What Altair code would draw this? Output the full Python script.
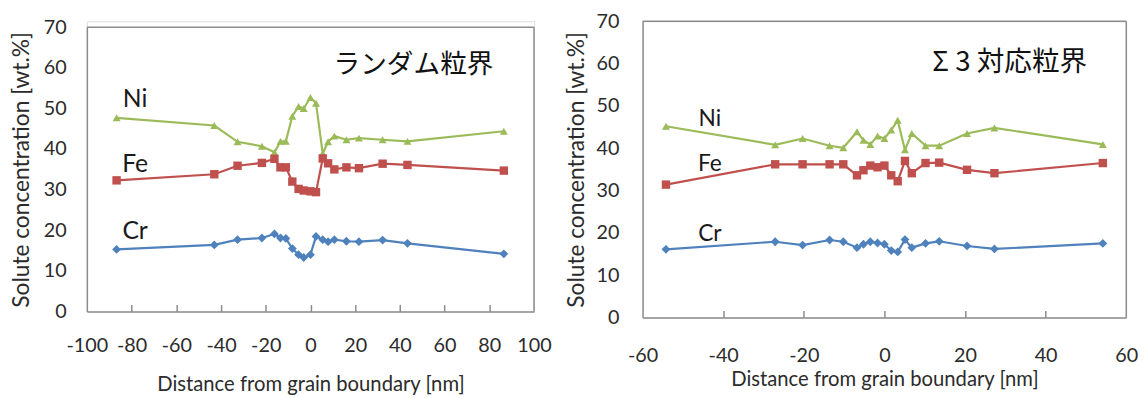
import altair as alt
import pandas as pd

# ---- data ----
elements = ["Ni", "Fe", "Cr"]

random_x = [-86.7, -43.0, -32.6, -21.7, -16.1, -13.4, -11.0, -8.1, -5.3, -3.0,
            0.0, 2.5, 5.5, 7.9, 10.7, 16.1, 21.7, 32.3, 43.4, 86.5]
random_ni = [47.7, 45.8, 41.8, 40.7, 39.2, 41.9, 41.9, 48.1, 50.5, 50.0,
             52.7, 51.3, 38.9, 41.8, 43.2, 42.3, 42.7, 42.3, 41.9, 44.4]
random_fe = [32.3, 33.8, 35.9, 36.6, 37.6, 35.5, 35.5, 32.0, 30.2, 29.8,
             29.6, 29.4, 37.7, 36.5, 35.0, 35.5, 35.3, 36.4, 36.1, 34.7]
random_cr = [15.3, 16.4, 17.7, 18.1, 19.1, 18.1, 18.0, 15.5, 14.0, 13.3,
             14.0, 18.5, 17.7, 17.2, 17.7, 17.3, 17.2, 17.6, 16.8, 14.2]

sigma_x = [-54.2, -27.1, -20.3, -13.6, -10.2, -6.8, -5.2, -3.5, -1.7, 0.0,
           1.7, 3.3, 5.1, 6.8, 10.2, 13.6, 20.5, 27.3, 54.2]
sigma_ni = [45.2, 40.8, 42.3, 40.6, 40.1, 43.9, 41.9, 40.9, 42.9, 42.3,
            44.3, 46.6, 39.6, 43.5, 40.6, 40.6, 43.5, 44.8, 40.9]
sigma_fe = [31.4, 36.2, 36.2, 36.2, 36.2, 33.6, 34.8, 35.9, 35.5, 35.9,
            33.6, 32.2, 37.0, 34.1, 36.5, 36.6, 34.9, 34.1, 36.5]
sigma_cr = [16.1, 17.9, 17.1, 18.3, 17.9, 16.5, 17.3, 17.9, 17.6, 17.3,
            15.8, 15.5, 18.4, 16.5, 17.5, 18.0, 16.9, 16.2, 17.5]

random_ticks = [-100, -80, -60, -40, -20, 0, 20, 40, 60, 80, 100]
sigma_ticks = [-60, -40, -20, 0, 20, 40, 60]
y_ticks = [0, 10, 20, 30, 40, 50, 60, 70]

random_title = "ランダム粒界"
sigma_title = "Σ 3 対応粒界"
y_title = "Solute concentration [wt.%]"
x_title = "Distance from grain boundary [nm]"

colors = ["#9BBB59", "#C0504D", "#4F81BD"]
shapes = ["triangle-up", "square", "diamond"]


def long_df(xs, ni, fe, cr):
    rows = []
    for el, vals in zip(elements, [ni, fe, cr]):
        for xv, yv in zip(xs, vals):
            rows.append({"x": xv, "v": yv, "el": el})
    return pd.DataFrame(rows)


FONT = "Lato"
GRAY = "#8c8c8c"
TXT = "#2b2b2b"


def panel(df, xdom, xticks, inner_ticks, width, height, yrange, sizes,
          lab_pos, title_pos, title_text, xlab_pad, xtitle_pad, ylab_pad, ytitle_pad,
          lab_size, title_size):
    xs = alt.Scale(domain=xdom, nice=False, zero=False)
    ys = alt.Scale(domain=[0, 70], nice=False, range=yrange)
    col = alt.Color("el:N", scale=alt.Scale(domain=elements, range=colors), legend=None)
    base = alt.Chart(df)
    lines = base.mark_line(strokeWidth=2.2).encode(
        x=alt.X("x:Q", scale=xs, axis=alt.Axis(
            values=xticks, ticks=False, domainColor=GRAY, domainWidth=1.5,
            labelFont=FONT, labelFontSize=20, labelColor=TXT, labelPadding=xlab_pad,
            labelFlush=False, grid=False, labelExpr="'' + datum.value",
            title=x_title, titleFont=FONT, titleFontSize=20.5, titleFontWeight="normal",
            titleColor=TXT, titlePadding=xtitle_pad)),
        y=alt.Y("v:Q", scale=ys, axis=alt.Axis(
            values=y_ticks, ticks=False, domainColor=GRAY, domainWidth=1.5,
            labelFont=FONT, labelFontSize=20, labelColor=TXT, labelPadding=ylab_pad,
            grid=False,
            title=y_title, titleFont=FONT, titleFontSize=23, titleFontWeight="normal",
            titleColor=TXT, titlePadding=ytitle_pad)),
        color=col,
        detail="el:N",
    )
    points = base.mark_point(filled=True, opacity=1).encode(
        x=alt.X("x:Q", scale=xs, axis=None),
        y=alt.Y("v:Q", scale=ys, axis=None),
        color=col,
        shape=alt.Shape("el:N", scale=alt.Scale(domain=elements, range=shapes), legend=None),
        size=alt.Size("el:N", scale=alt.Scale(domain=elements, range=sizes), legend=None),
    )
    # inward ticks on the bottom axis
    ticks = alt.Chart().mark_rule(opacity=0).encode(
        x=alt.X(datum=xdom[0], scale=xs, axis=alt.Axis(
            orient="top", offset=-height, values=inner_ticks, labels=False, domain=False,
            ticks=True, tickSize=7, tickColor=GRAY, tickWidth=1.5, grid=False, title=None)),
        y=alt.Y(datum=0, scale=ys, axis=None),
    )
    top = alt.Chart().mark_rule(color=GRAY, strokeWidth=1.5).encode(
        x=alt.X(datum=xdom[0], scale=xs, axis=None), x2=alt.X2(datum=xdom[1]),
        y=alt.Y(datum=70, scale=ys, axis=None),
    )
    right = alt.Chart().mark_rule(color=GRAY, strokeWidth=1.5).encode(
        x=alt.X(datum=xdom[1], scale=xs, axis=None),
        y=alt.Y(datum=0, scale=ys, axis=None), y2=alt.Y2(datum=70),
    )
    labs = []
    for el, (lx, ly) in zip(elements, lab_pos):
        labs.append(alt.Chart().mark_text(
            text=el, font=FONT, fontSize=lab_size, color="#1a1a1a", align="center",
            baseline="middle").encode(
            x=alt.X(datum=lx, scale=xs, axis=None),
            y=alt.Y(datum=ly, scale=ys, axis=None)))
    ttl = alt.Chart().mark_text(
        text=title_text, font="Noto Sans CJK JP", fontSize=title_size, color="#111111",
        align="center", baseline="middle").encode(
        x=alt.X(datum=title_pos[0], scale=xs, axis=None),
        y=alt.Y(datum=title_pos[1], scale=ys, axis=None))
    return alt.layer(lines, points, ticks, top, right, *labs, ttl).resolve_axis(
        x="independent", y="independent").properties(width=width, height=height)


left = panel(long_df(random_x, random_ni, random_fe, random_cr),
             [-100, 100], random_ticks, [-80, -60, -40, -20, 0, 20, 40, 60, 80],
             453, 294, [294, 6], [65, 80, 55],
             [(-78.4, 52.2), (-78.4, 36.2), (-78.4, 19.9)], (46.1, 60.8), random_title,
             25, 19, 21, 9.5, 25, 27)

right = panel(long_df(sigma_x, sigma_ni, sigma_fe, sigma_cr),
              [-60, 60], sigma_ticks, [-40, -20, 0, 20, 40],
              490, 300, [300, 0], [105, 125, 85],
              [(-43.3, 46.9), (-43.3, 36.2), (-43.3, 19.7)], (31.1, 60.2), sigma_title,
              29, 4, 24, 8, 23, 28)

chart = alt.hconcat(left, right, spacing=13).properties(
    padding={"left": 10, "top": 8, "right": 5, "bottom": 0}
).configure_view(stroke=None).configure(background="white")

chart.save("out.html", embed_options={"renderer": "svg", "actions": False})
